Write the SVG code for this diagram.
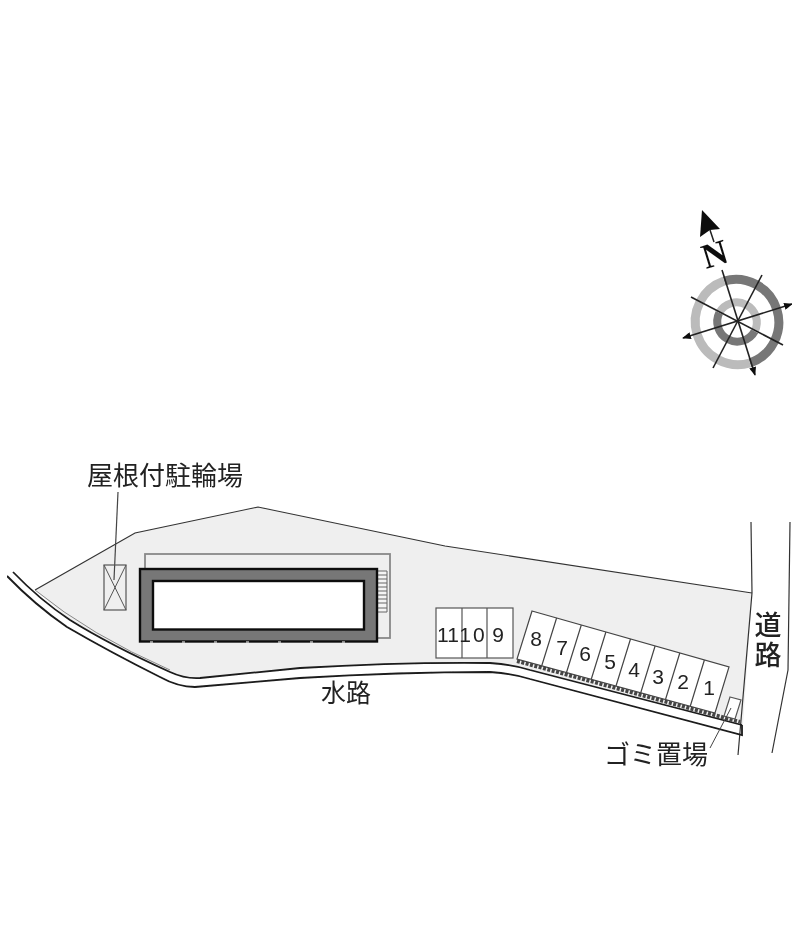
<svg xmlns="http://www.w3.org/2000/svg" width="800" height="942" viewBox="0 0 800 942">
<style>
.ln{fill:none;stroke:#333;stroke-width:1.2}
.cn{fill:none;stroke:#1a1a1a;stroke-width:1.8}
.cell{fill:#fff;stroke:#555;stroke-width:1.2}
.jp{font-family:"Noto Sans CJK JP","Noto Sans",sans-serif;font-size:26px;fill:#222}
.num{font-family:"Liberation Sans",sans-serif;font-size:21px;fill:#222;text-anchor:middle}
.ax{fill:none;stroke:#222;stroke-width:1.6}
</style>
<defs>
<marker id="ah" viewBox="0 0 10 8" refX="9" refY="4" markerWidth="9" markerHeight="7" orient="auto-start-reverse" markerUnits="userSpaceOnUse"><path d="M0,0L10,4L0,8Z" fill="#111"/></marker>
<filter id="soft" x="0" y="0" width="100%" height="100%"><feGaussianBlur stdDeviation="0.45"/></filter>
</defs>
<rect width="800" height="942" fill="#fff"/>
<g filter="url(#soft)">
<g id="site">
<path d="M35,590L135,533L258,507L445,546L752,593L743,725L530,670Q510,664 490,663Q400,662 300,668L200,678Q185,679 170,672Q110,645 70,620Z" fill="#efefef"/>
<path d="M35,590L135,533L258,507L445,546L752,593" class="ln"/>
</g>
<g id="road">
<path d="M751,522L752,593L738,755" class="ln"/>
<path d="M790,522L788,670L772,753" class="ln"/>
<text class="jp" x="768" y="611" style="writing-mode:vertical-rl;font-size:27px;font-weight:500;letter-spacing:3px">道路</text>
</g>
<g id="canal">
<path d="M13,572Q40,600 70,620Q110,645 170,672Q185,679 200,678L300,668Q400,662 490,663Q510,664 530,670L742,725" class="cn"/>
<path d="M7,576Q35,605 67,627Q110,652 160,677Q178,687 195,687L300,678Q400,672 490,672Q510,673 530,679L742,735L742,725" class="cn"/>
<path d="M517,661L530,664.500L740,722" fill="none" stroke="#444" stroke-width="4" stroke-dasharray="3 1.500"/>
<path d="M35,590Q90,635 170,670" fill="none" stroke="#888" stroke-width="1"/>
<text class="jp" x="321" y="702" style="font-size:25px">水路</text>
</g>
<g id="bike-shelter">
<path d="M118,492L114,580" fill="none" stroke="#444" stroke-width="1.200"/>
<rect x="104" y="565" width="22" height="45" fill="none" stroke="#555" stroke-width="1.200"/>
<path d="M104,565L126,610M126,565L104,610" fill="none" stroke="#555" stroke-width="1"/>
<text class="jp" x="87" y="485">屋根付駐輪場</text>
</g>
<g id="building">
<rect x="145" y="554" width="245" height="84" fill="none" stroke="#888" stroke-width="1.800"/>
<path d="M378,571H387V612H378M378,575H387M378,579H387M378,583H387M378,587H387M378,591H387M378,595H387M378,599H387M378,603H387M378,608H387" fill="#f4f4f4" stroke="#666" stroke-width="1"/>
<rect x="140" y="569" width="237" height="72.500" fill="#777" stroke="#111" stroke-width="2.400"/>
<rect x="153" y="581" width="211" height="48.500" fill="#fff" stroke="#111" stroke-width="2.400"/>
<path d="M150,642H372" fill="none" stroke="#fff" stroke-width="1.200" stroke-dasharray="3 29"/>
</g>
<g id="parking-east">
<path d="M532,611L729,667L715,713L517,659Z" fill="#fff" stroke="#444" stroke-width="1.200"/>
<path d="M556.600,618L541.750,665.750M581.300,625L566.500,672.500M605.900,632L591.250,679.250M630.500,639L616,686M655.100,646L640.750,692.750M679.800,653L665.500,699.500M704.400,660L690.250,706.250" fill="none" stroke="#444" stroke-width="1.200"/>
<text class="num" x="536" y="646">8</text>
<text class="num" x="562" y="655">7</text>
<text class="num" x="585" y="661">6</text>
<text class="num" x="610" y="669">5</text>
<text class="num" x="634" y="677">4</text>
<text class="num" x="658" y="684">3</text>
<text class="num" x="683" y="689">2</text>
<text class="num" x="709" y="695">1</text>
</g>
<g id="parking-west">
<rect x="436" y="608" width="77" height="50" class="cell"/>
<path d="M462,608V658M487,608V658" fill="none" stroke="#555" stroke-width="1.200"/>
<text class="num" x="448" y="642">11</text>
<text class="num" x="473" y="642" style="letter-spacing:2px">10</text>
<text class="num" x="498" y="642">9</text>
</g>
<g id="garbage">
<path d="M730,697L741,700L735,719L724,716Z" fill="#fff" stroke="#555" stroke-width="1.200"/>
<path d="M731,708L710,748" fill="none" stroke="#444" stroke-width="1"/>
<text class="jp" x="604" y="764">ゴミ置場</text>
</g>
<g id="compass">
<g fill="none" stroke-width="9">
<path d="M724.100,281A43,43 0 0 1 749.900,363" stroke="#777"/>
<path d="M749.900,363A43,43 0 0 1 724.100,281" stroke="#bbb"/>
</g>
<g fill="none" stroke-width="8">
<path d="M754.700,331.300A20,20 0 0 1 719.300,312.700" stroke="#777"/>
<path d="M719.300,312.700A20,20 0 0 1 754.700,331.300" stroke="#bbb"/>
</g>
<path d="M722,270L755,375" class="ax" marker-end="url(#ah)"/>
<path d="M683,338L792,304" class="ax" marker-start="url(#ah)" marker-end="url(#ah)"/>
<path d="M713,368L762,275" class="ax"/>
<path d="M691,297L783,345" class="ax"/>
<path d="M702,210L700,237L710,230L720,229Z" fill="#111"/>
<path d="M710,230L714,242" fill="none" stroke="#222" stroke-width="1.500"/>
<text x="0" y="0" transform="translate(706,269) rotate(-17)" style="font-family:'Liberation Serif',serif;font-weight:bold;font-size:35px;fill:#111">N</text>
</g>
</g>
</svg>
